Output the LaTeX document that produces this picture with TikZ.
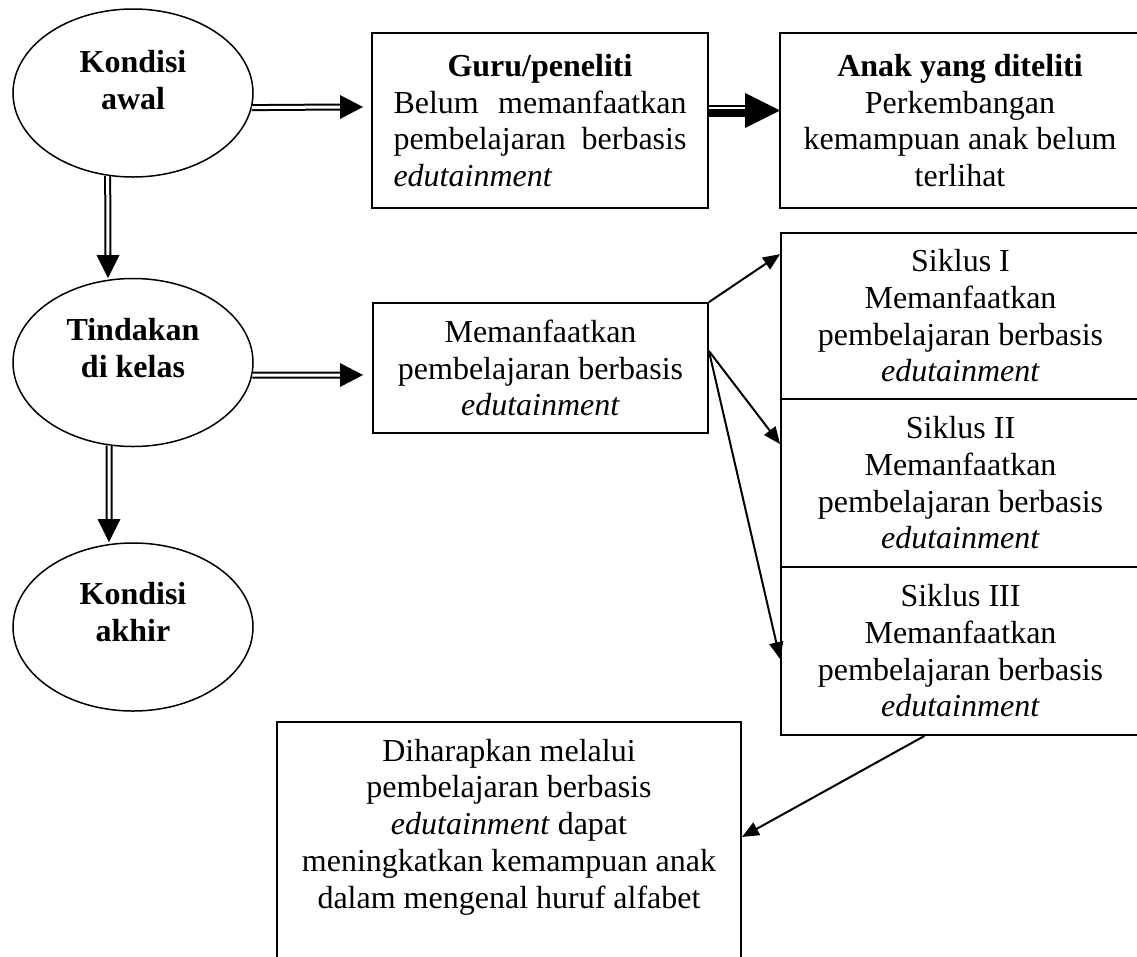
\documentclass[tikz,border=0pt]{standalone}
\usepackage{fontspec}
\setmainfont{Liberation Serif}
\usetikzlibrary{shapes.geometric,arrows.meta}

\tikzset{
  oval/.style={ellipse, draw, line width=1.5pt, minimum width=240pt,
    minimum height=168pt, inner sep=0pt},
  teks/.style={font=\fontsize{32}{36.7}\selectfont, align=center, inner sep=0pt},
  judul/.style={teks, font=\fontsize{32}{36.7}\selectfont\bfseries},
  kotak/.style={draw, rectangle, line width=1.8pt, inner sep=0pt, align=center,
    font=\fontsize{32}{36.7}\selectfont},
  rangkap/.style={double, double distance=3pt, line width=2pt},
  panah/.style={line width=2pt, -{Triangle[length=17pt,width=14pt]}}
}

\begin{document}
\begin{tikzpicture}[x=1pt, y=-1pt]
    \useasboundingbox (0,0) rectangle (1137,956);

    % kolom kiri
    \node [oval] (awal) at (133,93) {};
    \node [oval] (tindak) at (133,362.5) {};
    \node [oval] (akhir) at (133,627) {};
    \node [judul] (awalteks) at (133,80) {Kondisi\\awal};
    \node [judul] (tindakteks) at (133,348) {Tindakan\\di kelas};
    \node [judul] (akhirteks) at (133,612) {Kondisi\\akhir};

    % kotak tengah dan kanan
    \node [kotak, align=left, text width=293pt, inner xsep=21.5pt,
      minimum height=175pt] (guru) at (540,120.5)
      {\hfill\textbf{Guru/peneliti}\hfill\mbox{}\\
       Belum\hfill memanfaatkan\\
       pembelajaran\hfill berbasis\\
       \textit{edutainment}};
    \node [kotak, minimum width=360pt, minimum height=175pt] (anak) at (960,120.5)
      {\textbf{Anak yang diteliti}\\Perkembangan\\kemampuan anak belum\\terlihat};
    \node [kotak, minimum width=335pt, minimum height=130pt] (manfaat) at (540.5,368)
      {Memanfaatkan\\pembelajaran berbasis\\\textit{edutainment}};
    \node [kotak, minimum width=359pt, minimum height=166pt] (siklus1) at (960.5,316)
      {Siklus I\\Memanfaatkan\\pembelajaran berbasis\\\textit{edutainment}};
    \node [kotak, minimum width=359pt, minimum height=168pt] (siklus2) at (960.5,483)
      {Siklus II\\Memanfaatkan\\pembelajaran berbasis\\\textit{edutainment}};
    \node [kotak, minimum width=359pt, minimum height=168pt] (siklus3) at (960.5,651)
      {Siklus III\\Memanfaatkan\\pembelajaran berbasis\\\textit{edutainment}};
    \node [kotak, anchor=north, minimum width=464pt, minimum height=260pt] (harap) at (509,721) {};
    \node [teks] (harapteks) at (509,827)
      {Diharapkan melalui\\pembelajaran berbasis\\\textit{edutainment} dapat\\
       meningkatkan kemampuan anak\\dalam mengenal huruf alfabet};

    % panah rangkap
    \coordinate (u1) at (363,107);
    \draw [rangkap] (awal.-7) -- ([xshift=-22pt]u1);
    \fill (u1) -- ++(-23,-12) -- ++(0,24) -- cycle;

    \coordinate (u2) at (108,278);
    \draw [rangkap] (awal.-107) -- ([yshift=22pt]u2);
    \fill (u2) -- ++(-11.5,-23) -- ++(23,0) -- cycle;

    \coordinate (u3) at (363,375);
    \draw [rangkap] (tindak.-6) -- ([xshift=-22pt]u3);
    \fill (u3) -- ++(-23,-12) -- ++(0,24) -- cycle;

    \coordinate (u4) at (109,542);
    \draw [rangkap] (tindak.-106) -- ([yshift=22pt]u4);
    \fill (u4) -- ++(-11.5,-23) -- ++(23,0) -- cycle;

    % panah tebal
    \coordinate (u5) at (780,110.5);
    \draw [line width=2pt] (guru.east |- 0,106) -- (746,106);
    \draw [line width=8pt] (guru.east |- 0,113) -- (746,113);
    \fill (u5) -- ++(-35,-17.5) -- ++(0,35) -- cycle;

    % panah ke siklus
    \draw [panah] (manfaat.north east) -- ([yshift=-22pt]siklus1.north west);
    \draw [panah] ([yshift=17pt]manfaat.east) -- ([yshift=-46pt]siklus2.north west);
    \draw [panah] ([yshift=17pt]manfaat.east) -- ([yshift=-93pt]siklus3.north west);
    \draw [panah] ([xshift=-36pt]siklus3.south) -- ([yshift=-116pt]harap.north east);
\end{tikzpicture}
\end{document}
